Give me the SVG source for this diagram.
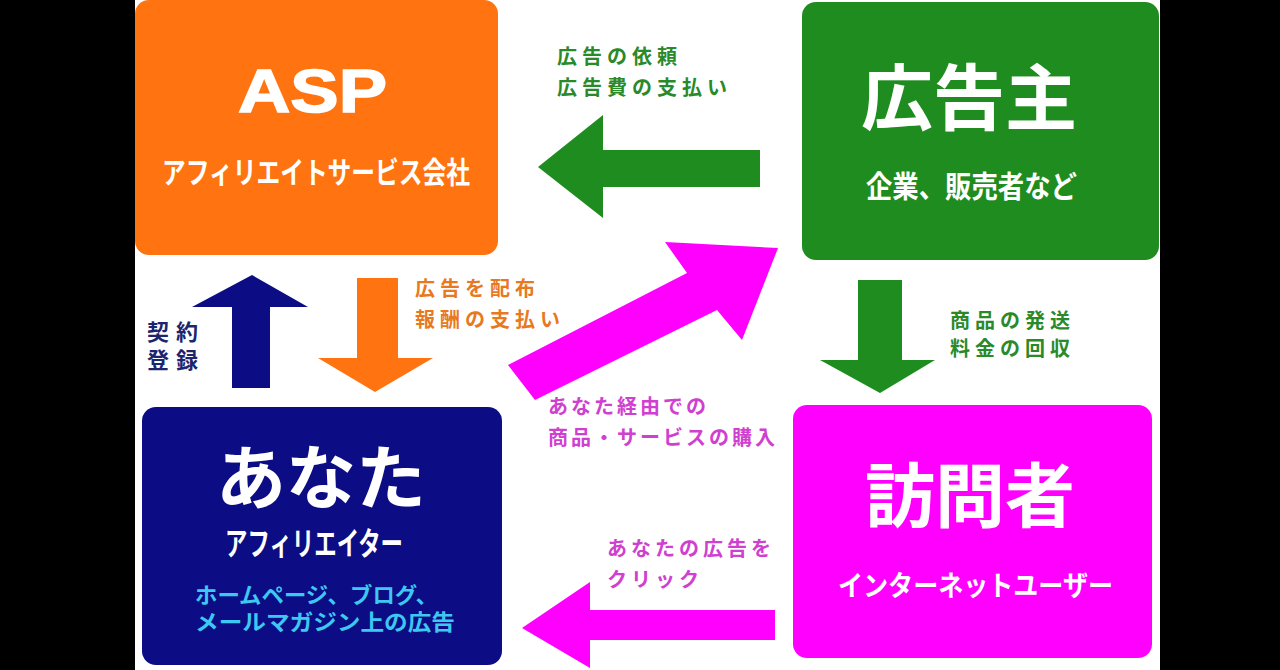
<svg xmlns="http://www.w3.org/2000/svg" width="1280" height="670" viewBox="0 0 1280 670">
<style>
.t{font-family:"Noto Sans CJK JP","Noto Sans",sans-serif;font-weight:700}
.w{fill:#ffffff}
.lbl{font-size:20px}
.latin{font-family:"Liberation Sans","DejaVu Sans",sans-serif;font-weight:700}
</style>
<rect x="0" y="0" width="1280" height="670" fill="#ffffff"/>
<rect x="0" y="0" width="135" height="670" fill="#000000"/>
<rect x="1160" y="0" width="120" height="670" fill="#000000"/>

<g id="node-asp">
<rect x="135" y="0" width="363" height="255" rx="14" fill="#FF7410"/>
<text class="latin w" x="238" y="112" font-size="62" textLength="149" lengthAdjust="spacingAndGlyphs" stroke="#ffffff" stroke-width="1.5">ASP</text>
<text class="t w" x="162" y="183" font-size="30" textLength="308" lengthAdjust="spacingAndGlyphs">アフィリエイトサービス会社</text>
</g>

<g id="node-advertiser">
<rect x="802" y="2" width="357" height="258" rx="14" fill="#1E8C1E"/>
<text class="t w" x="969" y="124" font-size="72" text-anchor="middle">広告主</text>
<text class="t w" x="866" y="197" font-size="30" textLength="211" lengthAdjust="spacingAndGlyphs">企業、販売者など</text>
</g>

<g id="node-you">
<rect x="142" y="407" width="360" height="258" rx="14" fill="#0C0C84"/>
<text class="t w"><tspan x="321" y="504" font-size="70" text-anchor="middle">あなた</tspan><tspan x="225" y="555" font-size="32" textLength="178" lengthAdjust="spacingAndGlyphs">アフィリエイター</tspan></text>
<text class="t" font-size="22" fill="#3CC8F0"><tspan x="195" y="603" textLength="243" lengthAdjust="spacingAndGlyphs">ホームページ、ブログ、</tspan><tspan x="195" y="630" textLength="260" lengthAdjust="spacingAndGlyphs">メールマガジン上の広告</tspan></text>
</g>

<g id="node-visitor">
<rect x="793" y="405" width="359" height="253" rx="14" fill="#FF00FF"/>
<text class="t w" x="970" y="522" font-size="70" text-anchor="middle">訪問者</text>
<text class="t w" x="838" y="596" font-size="28" textLength="275" lengthAdjust="spacingAndGlyphs">インターネットユーザー</text>
</g>

<g id="connectors">
<polygon points="760,150 603,150 603,115 538,167 603,218 603,187 760,187" fill="#1E8C1E"/>
<polygon points="858,280 902,280 902,360 935,360 880,393 820,360 858,360" fill="#1E8C1E"/>
<polygon points="232,388 270,388 270,307 308,307 252,275 192,307 232,307" fill="#0C0C84"/>
<polygon points="357,278 398,278 398,358 433,358 375,392 318,358 357,358" fill="#FF7410"/>
<polygon points="508,365 687,273 665,242 778,248 742,340 717,310 535,400" fill="#FF00FF"/>
<polygon points="775,610 590,610 590,582 522,628 590,668 590,640 775,640" fill="#FF00FF"/>
</g>

<g id="labels">
<text class="t lbl" fill="#2A8A2A" letter-spacing="5"><tspan x="557" y="64">広告の依頼</tspan><tspan x="557" y="95">広告費の支払い</tspan></text>
<text class="t lbl" fill="#E8791E" letter-spacing="5"><tspan x="415" y="296">広告を配布</tspan><tspan x="415" y="327">報酬の支払い</tspan></text>
<text class="t" font-size="22" fill="#1C2570" letter-spacing="7"><tspan x="147" y="340">契約</tspan><tspan x="147" y="368">登録</tspan></text>
<text class="t lbl" fill="#2A8A2A" letter-spacing="5"><tspan x="950" y="328">商品の発送</tspan><tspan x="950" y="356">料金の回収</tspan></text>
<text class="t lbl" fill="#D040D0" letter-spacing="3"><tspan x="548" y="414">あなた経由での</tspan><tspan x="548" y="445">商品・サービスの購入</tspan></text>
<text class="t lbl" fill="#D040D0" letter-spacing="4"><tspan x="607" y="556">あなたの広告を</tspan><tspan x="607" y="587">クリック</tspan></text>
</g>
</svg>
